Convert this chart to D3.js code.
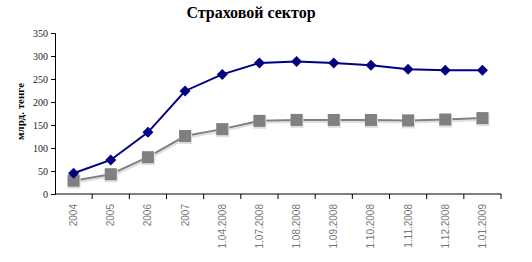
<!DOCTYPE html>
<html>
<head>
<meta charset="utf-8">
<script src="https://cdn.jsdelivr.net/npm/d3@7"></script>
<style>
  body { margin: 0; background: #fff; }
</style>
</head>
<body>
<div id="chart"></div>
<script>
const categories = ['2004', '2005', '2006', '2007', '1.04.2008', '1.07.2008', '1.08.2008',
  '1.09.2008', '1.10.2008', '1.11.2008', '1.12.2008', '1.01.2009'];
const seriesBlue = [45, 74, 134, 224, 260, 285, 288, 285, 280, 271, 269, 269];
const seriesGray = [29, 43, 80, 126, 141, 159, 161, 161, 161, 160, 162, 165];
const yTicks = [0, 50, 100, 150, 200, 250, 300, 350];

const width = 532;
const height = 262;
const plotLeft = 55, plotRight = 501, plotTop = 33, plotBottom = 194;

const svg = d3.select('#chart').append('svg')
  .attr('width', width)
  .attr('height', height);

const x = d3.scaleBand().domain(categories).range([plotLeft, plotRight]);
const y = d3.scaleLinear().domain([0, 350]).range([plotBottom, plotTop]);

svg.append('text')
  .attr('x', 251)
  .attr('y', 18)
  .attr('text-anchor', 'middle')
  .attr('font-family', 'Liberation Serif, serif')
  .attr('font-weight', 'bold')
  .attr('font-size', 16)
  .text('Страховой сектор');

svg.append('text')
  .attr('transform', `translate(24, ${(plotTop + plotBottom) / 2 - 2}) rotate(-90)`)
  .attr('text-anchor', 'middle')
  .attr('font-family', 'Liberation Serif, serif')
  .attr('font-weight', 'bold')
  .attr('font-size', 11)
  .text('млрд. тенге');

// y axis
const axisY = svg.append('g')
  .attr('transform', `translate(${plotLeft}, 0)`)
  .call(d3.axisLeft(y).tickValues(yTicks).tickSize(4).tickPadding(3));
axisY.selectAll('text')
  .attr('font-family', 'Liberation Serif, serif')
  .attr('font-size', 10)
  .attr('fill', '#222');

// x axis with ticks at category boundaries
const axisX = svg.append('g')
  .attr('transform', `translate(0, ${plotBottom})`)
  .call(d3.axisBottom(x).tickSize(0).tickPadding(0));
axisX.select('.domain').attr('d', `M${plotLeft},0H${plotRight}`);
axisX.selectAll('.tick line').remove();
axisX.selectAll('.bound')
  .data(categories)
  .enter()
  .append('line')
  .attr('x1', d => x(d) + x.bandwidth())
  .attr('x2', d => x(d) + x.bandwidth())
  .attr('y1', 0)
  .attr('y2', 5)
  .attr('stroke', '#000');
axisX.selectAll('.tick text')
  .attr('transform', 'rotate(-90)')
  .attr('x', -10)
  .attr('y', 0)
  .attr('dy', '0.35em')
  .attr('text-anchor', 'end')
  .attr('font-family', 'Liberation Sans, Arial, sans-serif')
  .attr('font-size', 10)
  .attr('fill', '#777');

const cx = d => x(d) + x.bandwidth() / 2;
const line = d3.line()
  .x((d, i) => cx(categories[i]))
  .y(d => y(d));

// gray series with soft shadow
svg.append('path')
  .datum(seriesGray)
  .attr('d', line)
  .attr('transform', 'translate(1, 2)')
  .attr('fill', 'none')
  .attr('stroke', '#e0e0e0')
  .attr('stroke-width', 2);
svg.append('path')
  .datum(seriesGray)
  .attr('d', line)
  .attr('fill', 'none')
  .attr('stroke', '#808080')
  .attr('stroke-width', 2);
svg.selectAll('.sq-shadow')
  .data(seriesGray)
  .enter()
  .append('rect')
  .attr('x', (d, i) => cx(categories[i]) - 6)
  .attr('y', d => y(d) - 5)
  .attr('width', 13)
  .attr('height', 13)
  .attr('fill', '#e0e0e0');
svg.selectAll('.sq')
  .data(seriesGray)
  .enter()
  .append('rect')
  .attr('x', (d, i) => cx(categories[i]) - 6)
  .attr('y', d => y(d) - 6)
  .attr('width', 12)
  .attr('height', 12)
  .attr('fill', '#808080');

// blue series
svg.append('path')
  .datum(seriesBlue)
  .attr('d', line)
  .attr('fill', 'none')
  .attr('stroke', '#000080')
  .attr('stroke-width', 2);
svg.selectAll('.dm')
  .data(seriesBlue)
  .enter()
  .append('path')
  .attr('d', (d, i) => {
    const px = cx(categories[i]), py = y(d), r = 5.5;
    return `M${px},${py - r}L${px + r},${py}L${px},${py + r}L${px - r},${py}Z`;
  })
  .attr('fill', '#000080');
</script>
</body>
</html>
